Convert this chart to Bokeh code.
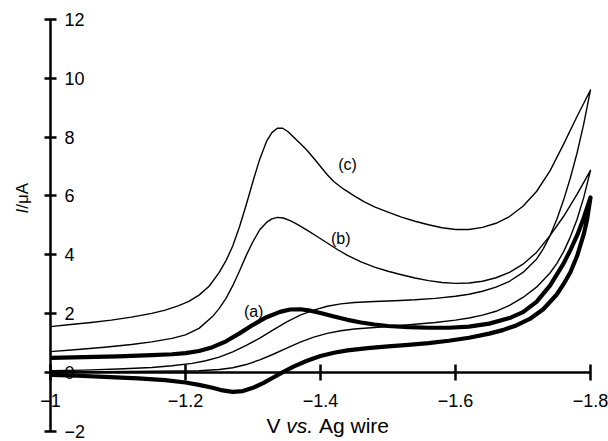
import math
from bokeh.plotting import figure
from bokeh.models import Range1d, LinearAxis, FixedTicker, Label
from bokeh.embed import file_html
from bokeh.resources import INLINE

# ---------------- data ----------------
# curve (c): forward scan (-1.0 -> -1.8) then return scan (-1.8 -> -1.0)
c_fwd_v = [-1.00, -1.03, -1.06, -1.09, -1.12, -1.15, -1.17, -1.19, -1.205, -1.22,
           -1.235, -1.25, -1.26, -1.27, -1.28, -1.29, -1.30, -1.31, -1.32, -1.328,
           -1.336, -1.344, -1.352, -1.36, -1.37, -1.38, -1.39, -1.40, -1.41, -1.42,
           -1.435, -1.45, -1.465, -1.48, -1.50, -1.52, -1.54, -1.56, -1.58, -1.60,
           -1.62, -1.64, -1.66, -1.68, -1.70, -1.72, -1.74, -1.76, -1.78, -1.80]
c_fwd_i = [1.56, 1.63, 1.70, 1.78, 1.88, 2.01, 2.12, 2.27, 2.42, 2.63,
           2.93, 3.40, 3.80, 4.30, 4.95, 5.70, 6.50, 7.25, 7.85, 8.15,
           8.30, 8.30, 8.18, 8.00, 7.78, 7.55, 7.28, 7.00, 6.72, 6.48,
           6.22, 6.00, 5.80, 5.63, 5.45, 5.28, 5.14, 5.02, 4.92, 4.86,
           4.86, 4.93, 5.07, 5.30, 5.65, 6.15, 6.85, 7.75, 8.70, 9.60]
c_ret_v = [-1.80, -1.79, -1.78, -1.77, -1.76, -1.75, -1.74, -1.73, -1.72, -1.70,
           -1.68, -1.66, -1.64, -1.62, -1.60, -1.57, -1.54, -1.51, -1.48, -1.45,
           -1.43, -1.41, -1.39, -1.37, -1.35, -1.33, -1.31, -1.29, -1.27, -1.25,
           -1.23, -1.21, -1.18, -1.15, -1.10, -1.05, -1.00]
c_ret_i = [9.60, 8.45, 7.45, 6.60, 5.85, 5.20, 4.65, 4.20, 3.85, 3.40,
           3.10, 2.90, 2.76, 2.66, 2.59, 2.52, 2.47, 2.44, 2.41, 2.38,
           2.33, 2.25, 2.12, 1.95, 1.72, 1.45, 1.17, 0.92, 0.70, 0.52,
           0.40, 0.31, 0.23, 0.17, 0.12, 0.08, 0.06]

# curve (b)
b_fwd_v = [-1.00, -1.04, -1.08, -1.12, -1.15, -1.18, -1.20, -1.22, -1.24, -1.25,
           -1.26, -1.27, -1.28, -1.29, -1.30, -1.31, -1.32, -1.328, -1.336, -1.345,
           -1.355, -1.365, -1.38, -1.395, -1.41, -1.425, -1.44, -1.46, -1.48, -1.50,
           -1.52, -1.54, -1.56, -1.58, -1.60, -1.62, -1.64, -1.66, -1.68, -1.70,
           -1.72, -1.74, -1.76, -1.78, -1.80]
b_fwd_i = [0.71, 0.78, 0.86, 0.95, 1.04, 1.16, 1.28, 1.50, 1.90, 2.18,
           2.52, 2.95, 3.45, 3.98, 4.45, 4.85, 5.10, 5.22, 5.27, 5.25,
           5.16, 5.04, 4.84, 4.62, 4.40, 4.18, 3.98, 3.76, 3.58, 3.44,
           3.32, 3.21, 3.12, 3.06, 3.03, 3.04, 3.10, 3.22, 3.40, 3.68,
           4.08, 4.65, 5.30, 6.05, 6.87]
b_ret_v = [-1.80, -1.79, -1.78, -1.77, -1.76, -1.75, -1.74, -1.72, -1.70, -1.68,
           -1.66, -1.64, -1.62, -1.60, -1.57, -1.54, -1.51, -1.48, -1.45, -1.43,
           -1.41, -1.39, -1.37, -1.35, -1.33, -1.31, -1.29, -1.27, -1.25, -1.22,
           -1.15, -1.08, -1.00]
b_ret_i = [6.87, 5.95, 5.20, 4.60, 4.10, 3.70, 3.38, 2.90, 2.55, 2.28,
           2.08, 1.95, 1.85, 1.78, 1.70, 1.64, 1.58, 1.53, 1.48, 1.42,
           1.33, 1.20, 1.03, 0.83, 0.62, 0.43, 0.27, 0.16, 0.10, 0.06,
           0.04, 0.03, 0.02]

# curve (a) (thick trace)
a_fwd_v = [-1.00, -1.05, -1.10, -1.15, -1.18, -1.20, -1.22, -1.24, -1.26, -1.28,
           -1.30, -1.32, -1.34, -1.355, -1.37, -1.385, -1.40, -1.42, -1.44, -1.46,
           -1.48, -1.50, -1.53, -1.56, -1.59, -1.62, -1.65, -1.68, -1.70, -1.72,
           -1.74, -1.76, -1.77, -1.78, -1.79, -1.80]
a_fwd_i = [0.50, 0.52, 0.55, 0.59, 0.62, 0.66, 0.73, 0.86, 1.06, 1.33,
           1.62, 1.88, 2.06, 2.14, 2.15, 2.10, 2.02, 1.90, 1.79, 1.70,
           1.63, 1.58, 1.54, 1.52, 1.52, 1.56, 1.66, 1.85, 2.05, 2.40,
           2.95, 3.70, 4.15, 4.65, 5.25, 5.95]
a_ret_v = [-1.80, -1.795, -1.79, -1.78, -1.77, -1.76, -1.75, -1.73, -1.71, -1.69,
           -1.67, -1.65, -1.62, -1.59, -1.56, -1.53, -1.50, -1.47, -1.44, -1.42,
           -1.40, -1.38, -1.36, -1.345, -1.33, -1.315, -1.30, -1.285, -1.27, -1.255,
           -1.24, -1.22, -1.20, -1.17, -1.13, -1.08, -1.04, -1.00]
a_ret_i = [5.95, 5.20, 4.70, 3.95, 3.40, 3.00, 2.65, 2.15, 1.82, 1.60,
           1.44, 1.32, 1.18, 1.08, 1.00, 0.94, 0.89, 0.83, 0.75, 0.67,
           0.56, 0.40, 0.20, 0.02, -0.17, -0.36, -0.52, -0.63, -0.66, -0.61,
           -0.52, -0.42, -0.34, -0.26, -0.20, -0.15, -0.11, -0.08]

curve_names = ["(a)", "(b)", "(c)"]
label_v = [-1.301, -1.430, -1.440]
label_i = [2.07, 4.55, 7.07]

x_ticks = [-1.0, -1.2, -1.4, -1.6, -1.8]
x_tick_labels = ["\u22121", "\u22121.2", "\u22121.4", "\u22121.6", "\u22121.8"]
y_ticks = [-2, 0, 2, 4, 6, 8, 10, 12]
y_tick_labels = ["\u22122", "0", "2", "4", "6", "8", "10", "12"]

FONT = "Liberation Sans"

# ---------------- geometry ----------------
W, H = 608, 441
# pixel placement of the plotting area: V=-1 at x=50, 0.2 V = 135 px; I=0 at y=372, 2 uA = 58.86 px
X0, XS = 50.0, 675.0
Y0, YS = 372.0, 29.43

def px_x(px):
    return -1.0 - (px - X0) / XS

def px_y(py):
    return (Y0 - py) / YS

p = figure(width=W, height=H,
           x_range=Range1d(px_x(0), px_x(W)), y_range=Range1d(px_y(H), px_y(0)),
           output_backend="svg", toolbar_location=None,
           x_axis_location=None, y_axis_location=None,
           min_border_left=0, min_border_right=0, min_border_top=0, min_border_bottom=0)
p.outline_line_color = None
p.xgrid.visible = False
p.ygrid.visible = False
p.background_fill_color = "white"
p.border_fill_color = "white"

# curves
p.line(c_fwd_v + c_ret_v[1:], c_fwd_i + c_ret_i[1:], line_color="black", line_width=1.4,
       line_join="round")
p.line(b_fwd_v + b_ret_v[1:], b_fwd_i + b_ret_i[1:], line_color="black", line_width=1.4,
       line_join="round")
p.line(a_fwd_v + a_ret_v[1:], a_fwd_i + a_ret_i[1:], line_color="black", line_width=4.2,
       line_join="round")

# axes
xaxis = LinearAxis(fixed_location=0, ticker=FixedTicker(ticks=x_ticks),
                   bounds=(min(x_ticks), max(x_ticks)))
xaxis.major_label_overrides = {t: l for t, l in zip(x_ticks, x_tick_labels)}
yaxis = LinearAxis(fixed_location=-1.0, ticker=FixedTicker(ticks=y_ticks),
                   bounds=(min(y_ticks), max(y_ticks)))
yaxis.major_label_overrides = {t: l for t, l in zip(y_ticks, y_tick_labels)}
for ax in (xaxis, yaxis):
    ax.axis_line_width = 2.5
    ax.major_tick_line_width = 2.5
    ax.minor_tick_line_color = None
    ax.major_label_text_font = FONT
    ax.major_label_text_font_size = "18px"
    ax.major_label_text_color = "black"
    ax.axis_line_color = "black"
    ax.major_tick_line_color = "black"
xaxis.major_tick_in = 8
xaxis.major_tick_out = 8
xaxis.major_label_standoff = 13
yaxis.major_tick_in = 6
yaxis.major_tick_out = 6
yaxis.major_label_standoff = 8
p.add_layout(xaxis, "below")
p.add_layout(yaxis, "right")

# curve labels
for name, v, i in zip(curve_names, label_v, label_i):
    p.add_layout(Label(x=v, y=i, text=name, text_font=FONT, text_font_size="16px",
                       text_align="center", text_baseline="middle", text_color="black"))

# y title: "I/μA" rotated, "I" italic
yfs = 17
yt_x, yt_y = px_x(22), px_y(213)
p.add_layout(Label(x=yt_x, y=yt_y, text="I", angle=math.pi / 2, text_font=FONT,
                   text_font_style="italic", text_font_size=f"{yfs}px", text_color="black",
                   text_align="left", text_baseline="middle"))
p.add_layout(Label(x=yt_x, y=yt_y, y_offset=0.278 * yfs, text="/\u03bcA", angle=math.pi / 2,
                   text_font=FONT, text_font_size=f"{yfs}px", text_color="black",
                   text_align="left", text_baseline="middle"))

# x title: "V vs. Ag wire", "vs." italic
xfs = 21
xt_x, xt_y = px_x(266), px_y(425)
p.add_layout(Label(x=xt_x, y=xt_y, text="V", text_font=FONT, text_font_size=f"{xfs}px",
                   text_color="black", text_align="left", text_baseline="middle"))
p.add_layout(Label(x=xt_x, y=xt_y, x_offset=0.945 * xfs, text="vs.", text_font=FONT,
                   text_font_style="italic", text_font_size=f"{xfs}px", text_color="black",
                   text_align="left", text_baseline="middle"))
p.add_layout(Label(x=xt_x, y=xt_y, x_offset=(0.945 + 1.278 + 0.278) * xfs, text="Ag wire",
                   text_font=FONT, text_font_size=f"{xfs}px", text_color="black",
                   text_align="left", text_baseline="middle"))

open("out.html", "w").write(file_html(p, INLINE))
